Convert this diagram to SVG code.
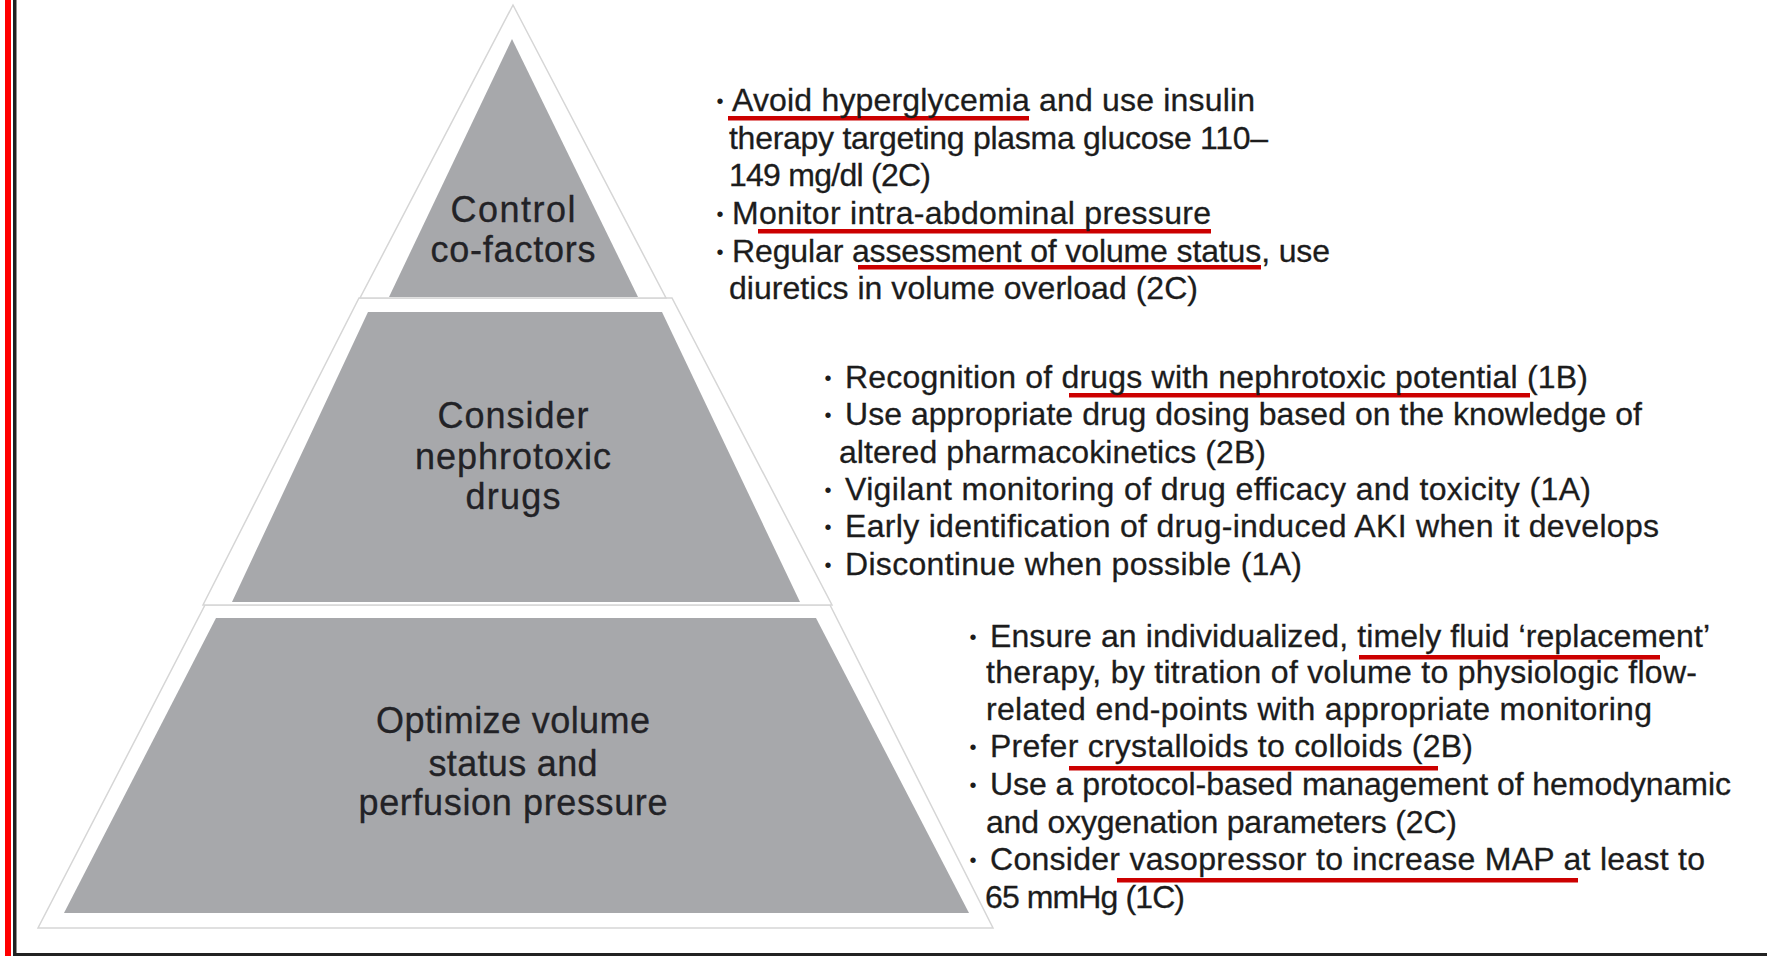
<svg xmlns="http://www.w3.org/2000/svg" width="1767" height="956" viewBox="0 0 1767 956">
<style>
.outer{fill:#ffffff;stroke:#d6d6d6;stroke-width:1.5}
.tier{fill:#a7a8ab}
.lbl{font-family:"Liberation Sans",Arial,sans-serif;font-size:36px;fill:#222226;stroke:#222226;stroke-width:0.3;text-anchor:middle}
.t{font-family:"Liberation Sans",Arial,sans-serif;font-size:32px;fill:#1c1c1c;stroke:#1c1c1c;stroke-width:0.3}
.b{font-family:"Liberation Sans",Arial,sans-serif;font-size:20px;fill:#1c1c1c;text-anchor:middle}
.ul{fill:#cc0000}
</style>
<rect x="0" y="0" width="1767" height="956" fill="#ffffff"/>
<g id="frame">
<rect x="5" y="0" width="6" height="956" fill="#ff0000"/>
<rect x="13" y="0" width="3.5" height="956" fill="#222222"/>
<rect x="13" y="953" width="1754" height="3" fill="#222222"/>
</g>
<g id="connectors"></g>
<g id="tier3">
<polygon class="outer" points="205,605 830,605 993,928 38,928"/>
<polygon class="tier" points="216,618 816,618 969,913 64,913"/>
<text class="lbl" x="513" y="733" textLength="274">Optimize volume</text>
<text class="lbl" x="513" y="776" textLength="169">status and</text>
<text class="lbl" x="513" y="815" textLength="309">perfusion pressure</text>
</g>
<g id="tier2">
<polygon class="outer" points="359,298 672,298 832,605 203,605"/>
<polygon class="tier" points="368,312 662,312 800,602 232,602"/>
<text class="lbl" x="513" y="428" textLength="151">Consider</text>
<text class="lbl" x="513" y="469" textLength="196">nephrotoxic</text>
<text class="lbl" x="513" y="509" textLength="95">drugs</text>
</g>
<g id="tier1">
<polygon class="outer" points="513,5 666,298 360,298"/>
<polygon class="tier" points="512,39 638,297 389,297"/>
<text class="lbl" x="513" y="222" textLength="125">Control</text>
<text class="lbl" x="513" y="262" textLength="165">co-factors</text>
</g>
<g id="notes1">
<rect class="ul" x="728" y="116" width="301" height="4.5"/>
<rect class="ul" x="758" y="229" width="453" height="4.5"/>
<rect class="ul" x="858" y="265" width="403" height="4.5"/>
<text class="b" x="720" y="108">•</text>
<text class="t" x="732" y="111" textLength="523">Avoid hyperglycemia and use insulin</text>
<text class="t" x="729" y="149" textLength="539">therapy targeting plasma glucose 110–</text>
<text class="t" x="729" y="186" textLength="202">149 mg/dl (2C)</text>
<text class="b" x="720" y="221">•</text>
<text class="t" x="732" y="224" textLength="479">Monitor intra-abdominal pressure</text>
<text class="b" x="720" y="259">•</text>
<text class="t" x="732" y="262" textLength="598">Regular assessment of volume status, use</text>
<text class="t" x="729" y="299" textLength="469">diuretics in volume overload (2C)</text>
</g>
<g id="notes2">
<rect class="ul" x="1069" y="393" width="461" height="4.5"/>
<text class="b" x="828" y="385">•</text>
<text class="t" x="845" y="388" textLength="743">Recognition of drugs with nephrotoxic potential (1B)</text>
<text class="b" x="828" y="422">•</text>
<text class="t" x="845" y="425" textLength="797">Use appropriate drug dosing based on the knowledge of</text>
<text class="t" x="839" y="463" textLength="427">altered pharmacokinetics (2B)</text>
<text class="b" x="828" y="497">•</text>
<text class="t" x="845" y="500" textLength="746">Vigilant monitoring of drug efficacy and toxicity (1A)</text>
<text class="b" x="828" y="534">•</text>
<text class="t" x="845" y="537" textLength="814">Early identification of drug-induced AKI when it develops</text>
<text class="b" x="828" y="572">•</text>
<text class="t" x="845" y="575" textLength="457">Discontinue when possible (1A)</text>
</g>
<g id="notes3">
<rect class="ul" x="1359" y="655" width="301" height="4.5"/>
<rect class="ul" x="1069" y="766" width="369" height="4.5"/>
<rect class="ul" x="1117" y="878" width="461" height="4.5"/>
<text class="b" x="973" y="644">•</text>
<text class="t" x="990" y="647" textLength="720">Ensure an individualized, timely fluid ‘replacement’</text>
<text class="t" x="986" y="683" textLength="711">therapy, by titration of volume to physiologic flow-</text>
<text class="t" x="986" y="720" textLength="666">related end-points with appropriate monitoring</text>
<text class="b" x="973" y="754">•</text>
<text class="t" x="990" y="757" textLength="483">Prefer crystalloids to colloids (2B)</text>
<text class="b" x="973" y="792">•</text>
<text class="t" x="990" y="795" textLength="741">Use a protocol-based management of hemodynamic</text>
<text class="t" x="986" y="833" textLength="471">and oxygenation parameters (2C)</text>
<text class="b" x="973" y="867">•</text>
<text class="t" x="990" y="870" textLength="715">Consider vasopressor to increase MAP at least to</text>
<text class="t" x="985" y="908" textLength="200">65 mmHg (1C)</text>
</g>
</svg>
